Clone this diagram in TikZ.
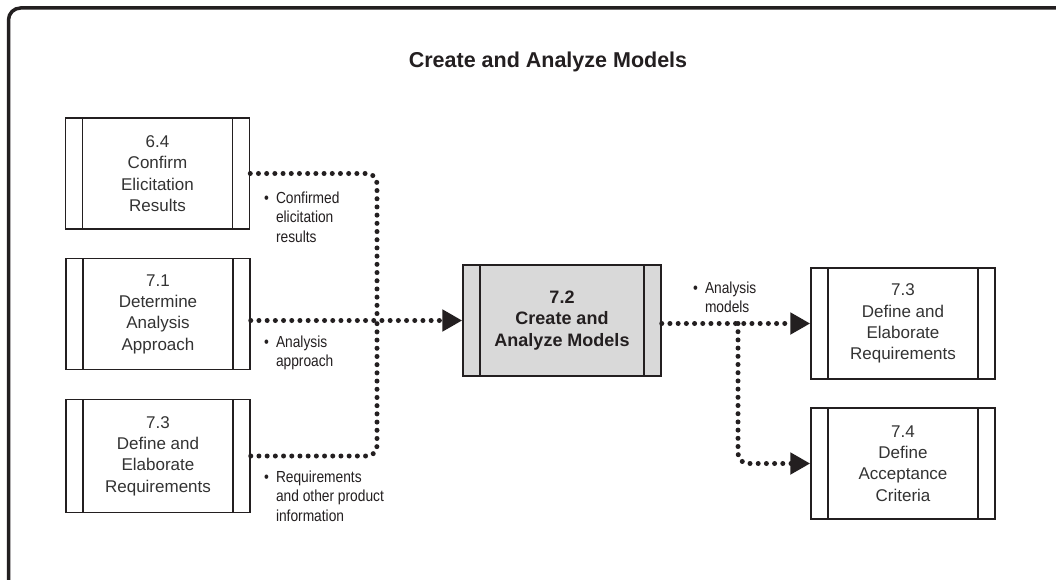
\documentclass[tikz,border=0pt]{standalone}
\usepackage{fontspec}
\setmainfont{Liberation Sans}
\newfontfamily\lblfont[FakeStretch=0.86]{Liberation Sans}
\usetikzlibrary{arrows.meta}
\definecolor{ink}{HTML}{231F20}
\definecolor{txt}{HTML}{333333}
\definecolor{boxgray}{HTML}{D9D9D9}
\tikzset{
  task/.style={draw=ink, line width=1.5pt, minimum width=184pt, minimum height=111pt,
    inner sep=0pt, align=center, text=txt, font=\fontsize{17}{21.3}\selectfont,
    path picture={
      \draw[ink, line width=1.5pt]
        ([xshift=17pt]path picture bounding box.north west) -- ([xshift=17pt]path picture bounding box.south west)
        ([xshift=-17pt]path picture bounding box.north east) -- ([xshift=-17pt]path picture bounding box.south east);
    }},
  focus/.style={task, fill=boxgray, minimum width=198pt, text=ink,
    font=\bfseries\fontsize{18}{21.5}\selectfont},
  dotline/.style={draw=ink, line width=5pt, line cap=round, dash pattern=on 0pt off 8.2pt,
    rounded corners=10pt},
  arr/.style={-{Triangle[length=20pt,width=21pt]}},
  lbl/.style={anchor=base west, inner sep=0pt, text=ink, font=\lblfont\fontsize{16}{19.5}\selectfont},
  ttl/.style={text=ink, font=\bfseries\fontsize{21.5}{26}\selectfont}
}
\newcommand{\bul}[1]{\begin{tabular}[t]{@{}l@{\hspace{7pt}}l@{}}\textbullet & #1\end{tabular}}
\begin{document}
\begin{tikzpicture}[x=1pt,y=-1pt]
\useasboundingbox (0,0) rectangle (1056,580);
\fill[white] (0,0) rectangle (1056,580);
\draw[ink, line width=3.5pt, rounded corners=12pt] (1058,8) -- (8.5,8) -- (8.5,582);

\node[ttl] (title) at (548,62) {Create and Analyze Models};

\node[task] (b64) at (157.5,173.5) {6.4\\Confirm\\Elicitation\\Results};
\node[task] (b71) at (158,314) {7.1\\Determine\\Analysis\\Approach};
\node[task, minimum height=113pt] (b73l) at (158,456) {7.3\\Define and\\Elaborate\\Requirements};
\node[focus] (b72) at (562,320.5) {7.2\\Create and\\Analyze Models};
\node[task] (b73r) at (903,323.5) {7.3\\Define and\\Elaborate\\Requirements};
\node[task] (b74) at (903,463.5) {7.4\\Define\\Acceptance\\Criteria};

\coordinate (jn) at (377,320.5);
\coordinate (br) at (738,323.5);

\draw[dotline] (b64.east) -| (jn);
\draw[dotline] (b73l.east) -| (jn);
\draw[dotline, arr] (b71.east |- b72.west) -- (b72.west);
\draw[dotline, arr] (b72.east |- b73r.west) -- (b73r.west);
\draw[dotline, arr] (br) |- (b74.west);

\node[lbl] (l1) at (264,203) {\bul{Confirmed\\ & elicitation\\ & results}};
\node[lbl] (l2) at (264,347) {\bul{Analysis\\ & approach}};
\node[lbl] (l3) at (264,482) {\bul{Requirements\\ & and other product\\ & information}};
\node[lbl] (l4) at (693,293) {\bul{Analysis\\ & models}};
\end{tikzpicture}
\end{document}
